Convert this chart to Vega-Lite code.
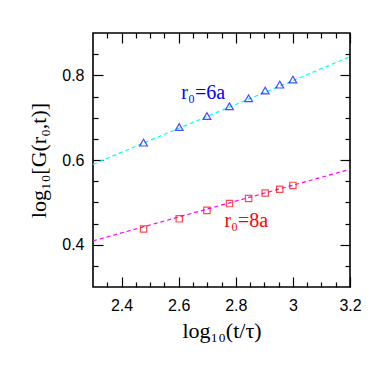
{
  "$schema": "https://vega.github.io/schema/vega-lite/v6.json",
  "width": 257,
  "height": 254,
  "autosize": "none",
  "padding": {"left": 93, "top": 33, "right": 32, "bottom": 95},
  "background": "white",
  "config": {
    "view": {"stroke": "black", "strokeWidth": 1.6},
    "axis": {
      "domain": false,
      "grid": false,
      "tickColor": "black",
      "tickWidth": 1.2,
      "labelColor": "black",
      "titleColor": "black",
      "labelFont": "Liberation Sans",
      "labelFontSize": 16,
      "titleFont": "Liberation Serif",
      "titleFontSize": 22,
      "titleFontWeight": "normal",
      "labelFlush": false,
      "labelOverlap": false,
      "format": "~g"
    }
  },
  "datasets": {
    "fit6": [{"t": 2.3, "g": 0.590}, {"t": 3.2, "g": 0.844}],
    "fit8": [{"t": 2.3, "g": 0.409}, {"t": 3.2, "g": 0.578}],
    "pts6": [
      {"t": 2.477, "g": 0.641}, {"t": 2.602, "g": 0.678}, {"t": 2.699, "g": 0.704},
      {"t": 2.778, "g": 0.727}, {"t": 2.845, "g": 0.746}, {"t": 2.903, "g": 0.764},
      {"t": 2.954, "g": 0.778}, {"t": 3.0, "g": 0.790}
    ],
    "pts8": [
      {"t": 2.477, "g": 0.437}, {"t": 2.602, "g": 0.461}, {"t": 2.699, "g": 0.481},
      {"t": 2.778, "g": 0.497}, {"t": 2.845, "g": 0.509}, {"t": 2.903, "g": 0.522},
      {"t": 2.954, "g": 0.531}, {"t": 3.0, "g": 0.540}
    ],
    "labels": [
      {"t": 2.686, "g": 0.759, "text": "r₀=6a", "c": "blue"},
      {"t": 2.837, "g": 0.456, "text": "r₀=8a", "c": "red"}
    ]
  },
  "resolve": {"scale": {"x": "shared", "y": "shared"}, "axis": {"x": "independent", "y": "independent"}},
  "layer": [
    {
      "data": {"name": "fit6"},
      "mark": {"type": "line", "color": "#00FFFF", "strokeDash": [4, 3], "strokeWidth": 1.2, "clip": true},
      "encoding": {
        "x": {"field": "t", "type": "quantitative", "scale": {"domain": [2.3, 3.2], "nice": false, "zero": false},
              "axis": {"orient": "bottom", "values": [2.4, 2.6, 2.8, 3.0, 3.2], "tickSize": -10, "labelPadding": 20, "title": "log₁₀(t/τ)", "titlePadding": 7}},
        "y": {"field": "g", "type": "quantitative", "scale": {"domain": [0.3, 0.9], "nice": false, "zero": false},
              "axis": {"orient": "left", "values": [0.4, 0.6, 0.8], "tickSize": -10, "labelPadding": 19, "title": "log₁₀[G(r₀,t)]", "titlePadding": 11}}
      }
    },
    {
      "data": {"name": "fit8"},
      "mark": {"type": "line", "color": "#FF00FF", "strokeDash": [4, 3], "strokeWidth": 1.2, "clip": true},
      "encoding": {
        "x": {"field": "t", "type": "quantitative",
              "axis": {"orient": "bottom", "values": [2.35, 2.45, 2.5, 2.55, 2.65, 2.7, 2.75, 2.85, 2.9, 2.95, 3.05, 3.1, 3.15], "tickSize": -5, "labels": false, "title": null}},
        "y": {"field": "g", "type": "quantitative",
              "axis": {"orient": "left", "values": [0.35, 0.45, 0.5, 0.55, 0.65, 0.7, 0.75, 0.85], "tickSize": -5, "labels": false, "title": null}}
      }
    },
    {
      "data": {"name": "pts6"},
      "mark": {"type": "point", "shape": "triangle-up", "filled": false, "color": "blue", "size": 60, "strokeWidth": 1.2},
      "encoding": {
        "x": {"field": "t", "type": "quantitative",
              "axis": {"orient": "top", "values": [2.4, 2.6, 2.8, 3.0, 3.2], "tickSize": -10, "labels": false, "title": null}},
        "y": {"field": "g", "type": "quantitative",
              "axis": {"orient": "right", "values": [0.4, 0.6, 0.8], "tickSize": -10, "labels": false, "title": null}}
      }
    },
    {
      "data": {"name": "pts8"},
      "mark": {"type": "point", "shape": "square", "filled": false, "color": "red", "size": 40, "strokeWidth": 1.2},
      "encoding": {
        "x": {"field": "t", "type": "quantitative",
              "axis": {"orient": "top", "values": [2.35, 2.45, 2.5, 2.55, 2.65, 2.7, 2.75, 2.85, 2.9, 2.95, 3.05, 3.1, 3.15], "tickSize": -5, "labels": false, "title": null}},
        "y": {"field": "g", "type": "quantitative",
              "axis": {"orient": "right", "values": [0.35, 0.45, 0.5, 0.55, 0.65, 0.7, 0.75, 0.85], "tickSize": -5, "labels": false, "title": null}}
      }
    },
    {
      "data": {"name": "labels"},
      "mark": {"type": "text", "font": "Liberation Serif", "fontSize": 20, "align": "center", "baseline": "middle"},
      "encoding": {
        "x": {"field": "t", "type": "quantitative", "axis": null},
        "y": {"field": "g", "type": "quantitative", "axis": null},
        "text": {"field": "text"},
        "color": {"field": "c", "type": "nominal", "scale": null}
      }
    }
  ]
}
